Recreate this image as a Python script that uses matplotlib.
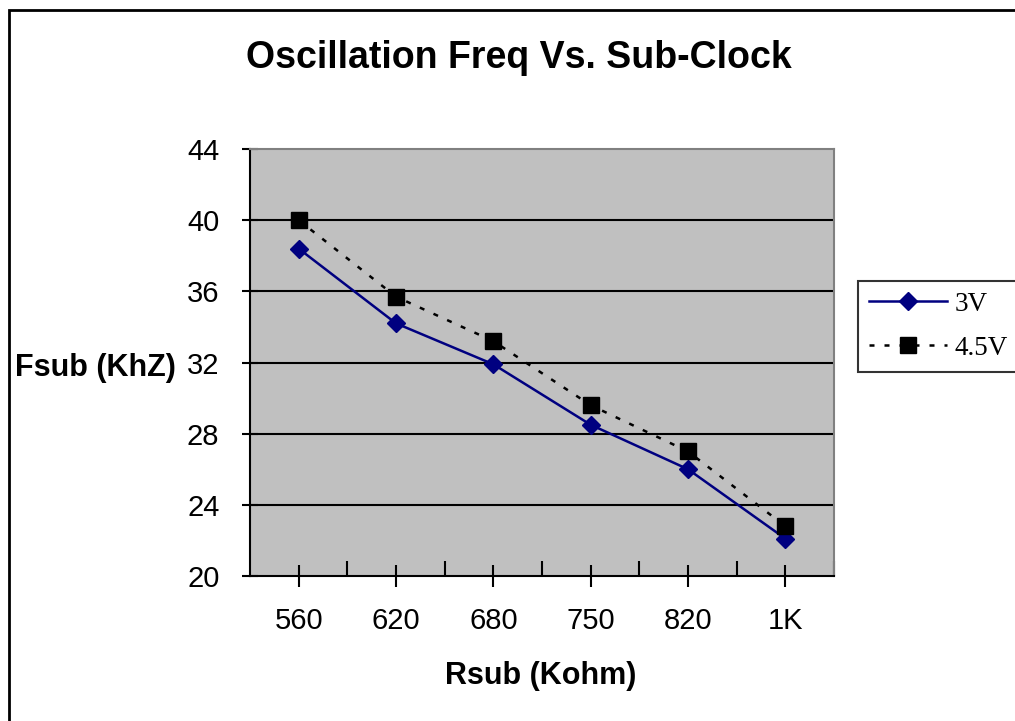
import matplotlib.pyplot as plt
from matplotlib.patches import Rectangle


categories = ["560", "620", "680", "750", "820", "1K"]
freq_3v = [38.4, 34.2, 31.9, 28.5, 26.0, 22.1]
freq_45v = [40.0, 35.7, 33.2, 29.6, 27.0, 22.8]
y_ticks = [20, 24, 28, 32, 36, 40, 44]

plt.rcParams['font.family'] = ['Liberation Sans', 'DejaVu Sans']


def main():
	fig = plt.figure(figsize=(10.15, 7.21), dpi=100)
	ax = fig.add_axes([250 / 1015, 1 - 576 / 721, 584 / 1015, 427 / 721])
	ax.set_facecolor("#C0C0C0")

	x = list(range(len(categories)))
	ax.plot(x, freq_3v, color="#000080", lw=1.8, marker="D", markersize=9.5, label="3V")
	ax.plot(x, freq_45v, color="black", lw=1.8, linestyle=(0, (2.0, 4.0)),
		marker="s", markersize=11, label="4.5V")

	ax.set_xlim(-0.5, len(categories) - 0.5)
	ax.set_ylim(20, 44)
	ax.set_yticks(y_ticks)
	ax.set_xticks(x)
	ax.set_xticklabels(categories)
	ax.set_xticks([i + 0.5 for i in x], minor=True)

	for yv in y_ticks[1:-1]:
		ax.axhline(yv, color="black", lw=1.5, zorder=1)

	ax.tick_params(axis="x", which="major", direction="inout", length=16, width=1.5,
		labelsize=21, pad=14)
	ax.tick_params(axis="x", which="minor", direction="in", length=11, width=1.5)
	ax.tick_params(axis="y", direction="inout", length=12, width=1.5, labelsize=21, pad=16)

	for side in ["top", "right"]:
		ax.spines[side].set_color("#808080")
		ax.spines[side].set_linewidth(1.5)
	for side in ["left", "bottom"]:
		ax.spines[side].set_color("black")
		ax.spines[side].set_linewidth(1.5)

	fig.text(519 / 1015, 1 - 58 / 721, "Oscillation Freq Vs. Sub-Clock", ha="center", va="center",
		fontsize=27, fontweight="bold")
	fig.text(541 / 1015, 1 - 676 / 721, "Rsub (Kohm)", ha="center", va="center",
		fontsize=22, fontweight="bold")
	fig.text(15 / 1015, 1 - 368 / 721, "Fsub (KhZ)", ha="left", va="center",
		fontsize=22, fontweight="bold")

	# outer chart border
	fig.patches.append(Rectangle((9 / 1015, -0.05), 1.1, 1 - 10 / 721 + 0.05,
		transform=fig.transFigure, fill=False, edgecolor="black", lw=2))

	leg = fig.legend(loc="upper left", bbox_to_anchor=(858 / 1015, 1 - 281 / 721),
		prop={"family": "Liberation Serif", "size": 19.5}, frameon=True, fancybox=False,
		edgecolor="black", handlelength=2.9, handletextpad=0.25, borderpad=0.4,
		borderaxespad=0, labelspacing=0.7)
	leg.get_frame().set_linewidth(1.5)

	fig.savefig("out.png", dpi=100)


if __name__ == '__main__':
	main()
